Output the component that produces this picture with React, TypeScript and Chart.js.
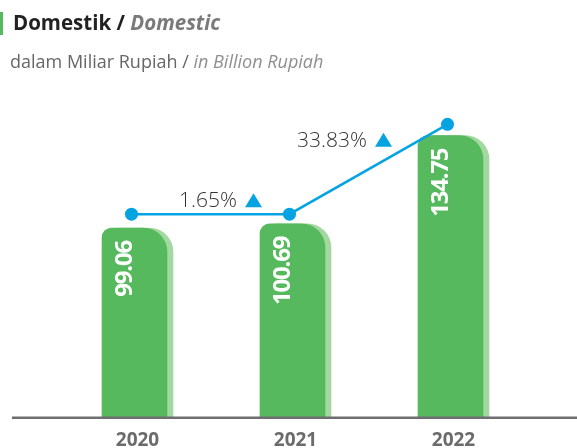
import React, { useEffect, useRef } from 'react';
import { Chart, registerables } from 'chart.js';

Chart.register(...registerables);

// ---- data ----
const years = ['2020', '2021', '2022'];
const domesticValues = [99.06, 100.69, 134.75];
const trendLine = [104.4, 104.4, 139.1];
const growthLabels = ['1.65%', '33.83%'];
const yMin = 26;
const yMax = 148.5;

// ---- style / layout ----
const GREEN = '#56b95d';
const GREEN_LIGHT = '#a3d9a0';
const BLUE = '#06a3e3';
const FONT = '"Open Sans", "Noto Sans", sans-serif';
// horizontal draw shifts per dataset index: shadow, main bar, line
const SHIFTS = [3, -3, -6];
const GROWTH_OFFSETS = [
  { dx: 26.5, dy: -7 },
  { dx: -1.5, dy: -22.5 },
];

const shiftPlugin = {
  id: 'shiftPlugin',
  beforeDatasetDraw(chart: any, args: any) {
    chart.ctx.save();
    chart.ctx.translate(SHIFTS[args.index] || 0, 0);
  },
  afterDatasetDraw(chart: any) {
    chart.ctx.restore();
  },
};

const decoPlugin = {
  id: 'decoPlugin',
  afterDatasetsDraw(chart: any) {
    const ctx = chart.ctx;
    const area = chart.chartArea;
    // baseline axis
    ctx.save();
    ctx.strokeStyle = '#6f6f73';
    ctx.lineWidth = 2.5;
    ctx.beginPath();
    ctx.moveTo(12, area.bottom + 0.5);
    ctx.lineTo(chart.width, area.bottom + 0.5);
    ctx.stroke();
    ctx.restore();

    // values inside bars
    const barMeta = chart.getDatasetMeta(1);
    barMeta.data.forEach((el: any, i: number) => {
      ctx.save();
      ctx.translate(el.x + SHIFTS[1] - 2.5, el.y + 13);
      ctx.rotate(-Math.PI / 2);
      ctx.font = `bold 24px ${FONT}`;
      (ctx as any).letterSpacing = '-1.2px';
      ctx.fillStyle = '#ffffff';
      ctx.textAlign = 'right';
      ctx.textBaseline = 'alphabetic';
      ctx.fillText(domesticValues[i].toFixed(2), 0, 0);
      ctx.restore();
    });

    // growth labels
    const lineMeta = chart.getDatasetMeta(2);
    const pts = lineMeta.data;
    growthLabels.forEach((label, i) => {
      const p0 = pts[i];
      const p1 = pts[i + 1];
      const mx = (p0.x + p1.x) / 2 + SHIFTS[2];
      const my = (p0.y + p1.y) / 2;
      const off = GROWTH_OFFSETS[i];
      const tx = mx + off.dx;
      const ty = my + off.dy;
      ctx.save();
      ctx.font = `300 21px ${FONT}`;
      ctx.fillStyle = '#333333';
      ctx.textAlign = 'right';
      ctx.textBaseline = 'alphabetic';
      ctx.fillText(label, tx, ty);
      const x0 = tx + 8;
      ctx.fillStyle = BLUE;
      ctx.beginPath();
      ctx.moveTo(x0, ty);
      ctx.lineTo(x0 + 17, ty);
      ctx.lineTo(x0 + 8.5, ty - 14);
      ctx.closePath();
      ctx.fill();
      ctx.restore();
    });
  },
};

export default function App() {
  const ref = useRef<HTMLCanvasElement | null>(null);

  useEffect(() => {
    if (!ref.current) return;
    const barRadius = { topLeft: 10, topRight: 24, bottomLeft: 0, bottomRight: 0 };
    const chart = new Chart(ref.current, {
      type: 'bar',
      data: {
        labels: years,
        datasets: [
          {
            type: 'bar',
            data: domesticValues,
            backgroundColor: GREEN_LIGHT,
            barThickness: 65,
            grouped: false,
            borderRadius: barRadius,
            borderSkipped: 'start',
            order: 3,
          } as any,
          {
            type: 'bar',
            data: domesticValues,
            backgroundColor: GREEN,
            barThickness: 65,
            grouped: false,
            borderRadius: barRadius,
            borderSkipped: 'start',
            order: 2,
          } as any,
          {
            type: 'line',
            data: trendLine,
            borderColor: BLUE,
            backgroundColor: BLUE,
            borderWidth: 2.5,
            pointRadius: 6.5,
            pointBackgroundColor: BLUE,
            pointBorderWidth: 0,
            tension: 0,
            clip: false,
            order: 1,
          } as any,
        ],
      },
      options: {
        responsive: false,
        animation: false,
        devicePixelRatio: 1,
        layout: { padding: { top: 100, left: 58.5, right: 44.5, bottom: -16 } },
        plugins: {
          legend: { display: false },
          tooltip: { enabled: false },
        },
        scales: {
          x: {
            type: 'category',
            offset: true,
            grid: { display: false, drawTicks: false },
            border: { display: false },
            ticks: {
              color: '#6b6b6b',
              padding: 12,
              font: { family: FONT, size: 19, weight: 'bold' },
            },
          },
          y: {
            display: false,
            min: yMin,
            max: yMax,
          },
        },
      },
      plugins: [shiftPlugin, decoPlugin],
    });
    return () => chart.destroy();
  }, []);

  return (
    <div style={{ position: 'fixed', left: 0, top: 0, width: 577, height: 448, background: '#fff', overflow: 'hidden' }}>
      <canvas ref={ref} width={577} height={448} style={{ position: 'absolute', left: 0, top: 0, display: 'block' }} />
      <div style={{ position: 'absolute', left: 0, top: 12, width: 3, height: 23, background: GREEN }} />
      <div
        style={{
          position: 'absolute', left: 13, top: 12, fontFamily: FONT, fontSize: 20.5, fontWeight: 700,
          lineHeight: '20px', color: '#222', whiteSpace: 'nowrap',
        }}
      >
        Domestik / <span style={{ fontStyle: 'italic', color: '#7a7a7a' }}>Domestic</span>
      </div>
      <div
        style={{
          position: 'absolute', left: 10, top: 53, fontFamily: FONT, fontSize: 18, fontWeight: 400,
          lineHeight: '17px', color: '#666', whiteSpace: 'nowrap',
        }}
      >
        dalam Miliar Rupiah / <span style={{ fontStyle: 'italic', color: '#8f8f8f' }}>in Billion Rupiah</span>
      </div>
    </div>
  );
}
